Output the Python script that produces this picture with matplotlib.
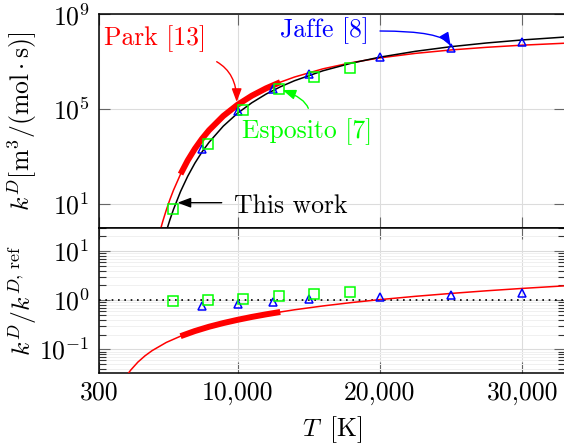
import numpy as np
import matplotlib
matplotlib.use("Agg")
import matplotlib.pyplot as plt
from matplotlib.ticker import FixedLocator, FixedFormatter, LogLocator, NullFormatter, NullLocator

plt.rcParams['font.family'] = 'cmr10'
plt.rcParams['mathtext.fontset'] = 'cm'
plt.rcParams['axes.formatter.use_mathtext'] = True
plt.rcParams['font.size'] = 18.5

# this work (reference curve)
T_ref = [4800, 5000, 5250, 5500, 6000, 6500, 7000, 7500, 8000, 9000, 10000, 11000,
         12000, 13000, 14000, 16000, 18000, 20000, 22500, 25000, 27500, 30000, 33000]
k_ref = [0.269, 0.710, 2.14, 5.85, 33.7, 147, 520, 1545, 3990, 1.92e4, 6.71e4, 1.85e5,
         4.30e5, 8.69e5, 1.58e6, 4.15e6, 8.69e6, 1.56e7, 2.75e7, 4.32e7, 6.18e7, 8.28e7, 1.10e8]

# Park [13]
T_park = [4500, 4750, 5000, 5250, 5500, 6000, 6500, 7000, 7500, 8000, 9000, 10000, 11000,
          12000, 13000, 14000, 16000, 18000, 20000, 22500, 25000, 27500, 30000, 33000]
k_park = [0.537, 1.85, 5.61, 15.3, 37.8, 182, 685, 2110, 5560, 1.29e4, 5.14e4, 1.53e5, 3.67e5,
          7.53e5, 1.37e6, 2.26e6, 5.02e6, 9.12e6, 1.45e7, 2.25e7, 3.14e7, 4.06e7, 4.99e7, 6.04e7]

# Park [13] relative to the reference
T_ratio = [2300, 2500, 3000, 3500, 4000, 5000, 6000, 7000, 8000, 9000, 10000, 11000,
           12000, 13000, 14000, 16000, 18000, 20000, 22500, 25000, 27500, 30000, 33000]
ratio_park = [0.0315, 0.0377, 0.0547, 0.0735, 0.0938, 0.138, 0.185, 0.235, 0.288, 0.342,
              0.398, 0.456, 0.515, 0.575, 0.638, 0.764, 0.895, 1.028, 1.20, 1.374, 1.556,
              1.738, 1.963]
park_range = (6000, 13000)  # validity range, drawn thick

# Jaffe [8]
T_jaffe = [7500, 10000, 12500, 15000, 20000, 25000, 30000]
k_jaffe = [2140, 8.5e4, 7.1e5, 3.0e6, 1.55e7, 3.7e7, 6.5e7]
ratio_jaffe = [0.76, 0.83, 0.94, 1.05, 1.15, 1.28, 1.43]

# Esposito [7]
T_esp = [5500, 7950, 10400, 12900, 15400, 17900]
k_esp = [6.2, 3470, 9.1e4, 6.8e5, 2.35e6, 5.6e6]
ratio_esp = [0.95, 1.0, 1.06, 1.22, 1.34, 1.47]

xticks = [300, 10000, 20000, 30000]
xticklabels = ['300', '10,000', '20,000', '30,000']

W, H = 564, 444
fig = plt.figure(figsize=(W / 100, H / 100), dpi=100)
left, right = 99.4 / W, 565 / W
ax1 = fig.add_axes([left, 1 - 227.7 / H, right - left, 213.4 / H])
ax2 = fig.add_axes([left, 1 - 372.7 / H, right - left, 145 / H])

red, blue, green = (1, 0, 0), (0, 0, 1), (0, 1, 0)
T_park_a = np.array(T_park)
k_park_a = np.array(k_park)
thick = (T_park_a >= park_range[0]) & (T_park_a <= park_range[1])
T_ratio_a = np.array(T_ratio)
ratio_a = np.array(ratio_park)
thick_r = (T_ratio_a >= park_range[0]) & (T_ratio_a <= park_range[1])

# top panel
ax1.plot(T_park, k_park, color=red, lw=1.1, zorder=3)
ax1.plot(T_park_a[thick], k_park_a[thick], color=red, lw=4.3, solid_capstyle='butt', zorder=3)
ax1.plot(T_ref, k_ref, color='black', lw=1.1, zorder=4)
ax1.plot(T_jaffe, k_jaffe, ls='none', marker='^', ms=6, mfc='none', mec=blue, mew=1.1, zorder=5)
ax1.plot(T_esp, k_esp, ls='none', marker='s', ms=6.5, mfc='none', mec=green, mew=1.1, zorder=5)
ax1.set_yscale('log')
ax1.set_ylim(1, 1e9)
ax1.yaxis.set_major_locator(FixedLocator([1e1, 1e5, 1e9]))
ax1.yaxis.set_major_formatter(FixedFormatter([r'$10^{1}$', r'$10^{5}$', r'$10^{9}$']))
ax1.yaxis.set_minor_locator(NullLocator())
ax1.set_ylabel(r'$k^D[\mathrm{m}^3/(\mathrm{mol}\cdot\mathrm{s})]$')

# bottom panel
ax2.axhline(1.0, color='black', ls=(0, (1, 2.8)), lw=1.2, zorder=2)
ax2.plot(T_ratio, ratio_park, color=red, lw=1.1, zorder=3)
ax2.plot(T_ratio_a[thick_r], ratio_a[thick_r], color=red, lw=4.3, solid_capstyle='butt', zorder=3)
ax2.plot(T_jaffe, ratio_jaffe, ls='none', marker='^', ms=6, mfc='none', mec=blue, mew=1.1, zorder=5)
ax2.plot(T_esp, ratio_esp, ls='none', marker='s', ms=6.5, mfc='none', mec=green, mew=1.1, zorder=5)
ax2.set_yscale('log')
ax2.set_ylim(1 / 30, 30)
ax2.yaxis.set_major_locator(FixedLocator([1e-1, 1e0, 1e1]))
ax2.yaxis.set_major_formatter(FixedFormatter([r'$10^{-1}$', r'$10^{0}$', r'$10^{1}$']))
ax2.yaxis.set_minor_locator(LogLocator(base=10, subs=np.arange(2, 10)))
ax2.yaxis.set_minor_formatter(NullFormatter())
ax2.set_ylabel(r'$k^D/k^{D,\,\mathrm{ref}}$')
ax2.set_xlabel(r'$T\;\;[\mathrm{K}]$')
ax2.grid(True, which='minor', axis='y', color='#f0f0f0', lw=0.7, zorder=0)

for ax in (ax1, ax2):
    ax.set_xlim(300, 33000)
    ax.set_xticks(xticks)
    ax.grid(True, which='major', color='#dcdcdc', lw=0.8, zorder=0)
    ax.set_axisbelow(True)
    ax.tick_params(which='both', direction='in', top=True, right=True, width=0.8)
    ax.tick_params(which='major', length=8, color='0.4', pad=7)
    ax.tick_params(which='minor', length=5, color='0.2')
    for s in ax.spines.values():
        s.set_linewidth(1.1)
    ax.yaxis.set_label_coords(-0.13, 0.5)

ax1.set_xticklabels([])
ax2.set_xticklabels(xticklabels)
ax2.tick_params(axis='x', pad=6)
ax2.xaxis.set_label_coords(0.5, -0.285)

# labels and arrows (figure pixels, origin bottom left)
def px(x, y):
    return (x / W, 1 - y / H)

fig.text(*px(103.5, 45), 'Park [13]', color=red, ha='left', va='baseline')
fig.text(*px(280, 37), 'Jaffe [8]', color=blue, ha='left', va='baseline')
fig.text(*px(241.5, 138), 'Esposito [7]', color=green, ha='left', va='baseline')
fig.text(*px(233.5, 213), 'This work', color='black', ha='left', va='baseline')

head = '-|>,head_length=0.8,head_width=0.3'
arrows = [
    ((216.7, 61.7), (236.7, 102), red, 'angle3,angleA=-30,angleB=90'),
    ((380, 31), (450.7, 46), blue, 'angle3,angleA=0,angleB=120'),
    ((308.3, 108.3), (282.5, 90), green, 'angle3,angleA=110,angleB=160'),
    ((221.7, 202.7), (177.5, 202.7), 'black', 'arc3,rad=0'),
]
for (x0, y0), (x1, y1), c, cs in arrows:
    ax1.annotate('', xy=(x1, H - y1), xycoords='figure pixels',
                 xytext=(x0, H - y0), textcoords='figure pixels',
                 arrowprops=dict(arrowstyle=head, color=c, lw=1.0, connectionstyle=cs,
                                 shrinkA=0, shrinkB=0, mutation_scale=10),
                 annotation_clip=False, zorder=6)

fig.savefig('out.png', dpi=100)
